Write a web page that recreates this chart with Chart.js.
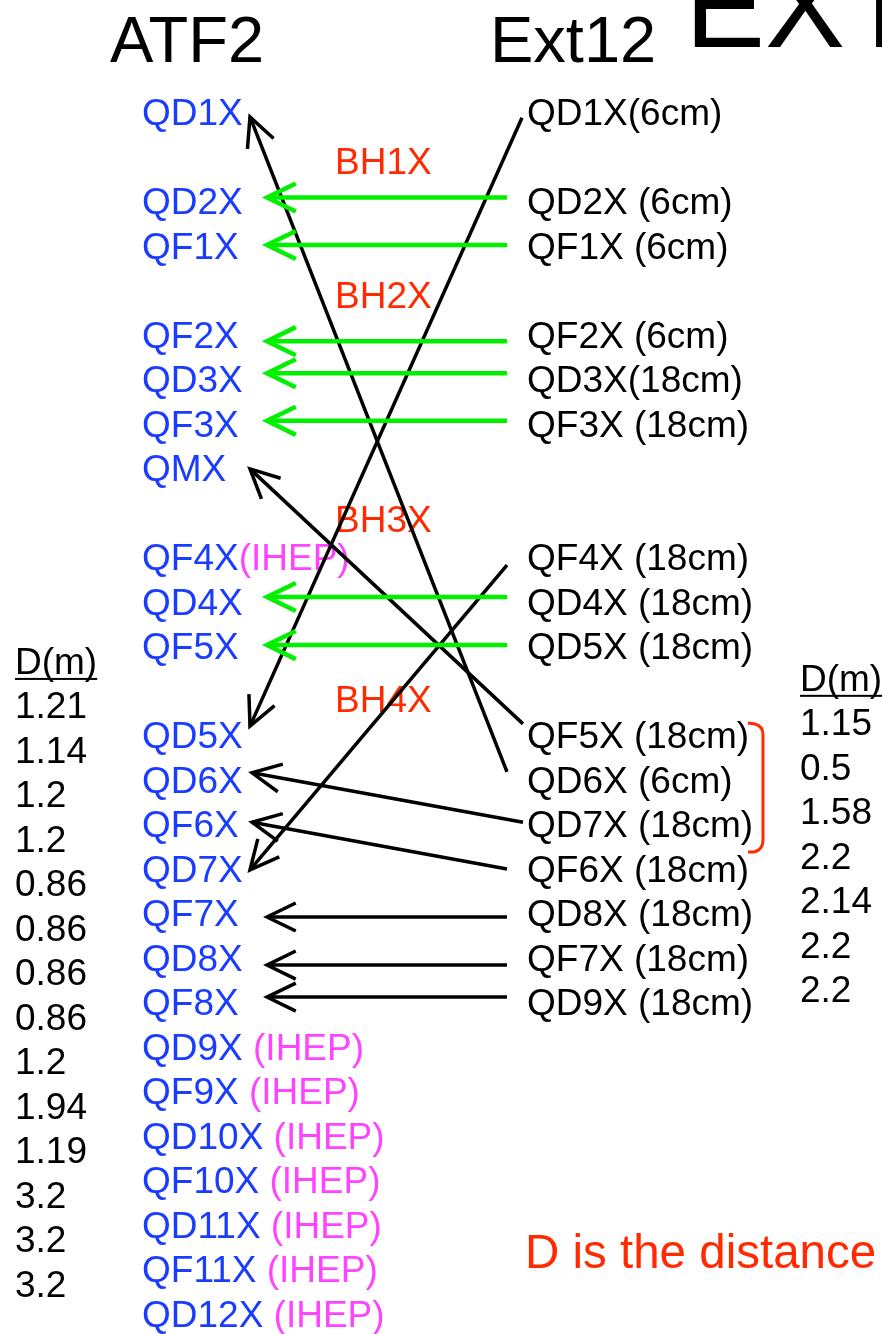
<!DOCTYPE html>
<html>
<head>
<meta charset="utf-8">
<script src="https://cdn.jsdelivr.net/npm/chart.js@4"></script>
<style>
  html, body { margin: 0; padding: 0; background: #fff; }
  canvas { display: block; }
</style>
</head>
<body>
<canvas id="chart" width="882" height="1334"></canvas>
<script>
// magnets, one entry per row ('' = empty row)
const atf2Magnets = ['QD1X', '', 'QD2X', 'QF1X', '', 'QF2X', 'QD3X', 'QF3X', 'QMX', '', 'QF4X', 'QD4X', 'QF5X', '',
  'QD5X', 'QD6X', 'QF6X', 'QD7X', 'QF7X', 'QD8X', 'QF8X', 'QD9X', 'QF9X', 'QD10X', 'QF10X', 'QD11X', 'QF11X', 'QD12X'];
const atf2Notes = ['', '', '', '', '', '', '', '', '', '', '(IHEP)', '', '', '',
  '', '', '', '', '', '', '', ' (IHEP)', ' (IHEP)', ' (IHEP)', ' (IHEP)', ' (IHEP)', ' (IHEP)', ' (IHEP)'];
const ext12Magnets = ['QD1X(6cm)', '', 'QD2X (6cm)', 'QF1X (6cm)', '', 'QF2X (6cm)', 'QD3X(18cm)', 'QF3X (18cm)', '', '',
  'QF4X (18cm)', 'QD4X (18cm)', 'QD5X (18cm)', '', 'QF5X (18cm)', 'QD6X (6cm)', 'QD7X (18cm)', 'QF6X (18cm)',
  'QD8X (18cm)', 'QF7X (18cm)', 'QD9X (18cm)'];

const bendNames = ['BH1X', 'BH2X', 'BH3X', 'BH4X'];
const bendRows = [1.1, 4.1, 9.15, 13.18];

const dLeft = ['1.21', '1.14', '1.2', '1.2', '0.86', '0.86', '0.86', '0.86', '1.2', '1.94', '1.19', '3.2', '3.2', '3.2'];
const dRight = ['1.15', '0.5', '1.58', '2.2', '2.14', '2.2', '2.2'];

// moved magnets (green) and re-used magnets (black), rows at each end
const greenRows = [1.92, 2.99, 5.15, 5.87, 6.94, 10.9, 11.98];
const blackFromRows = [0.13, 14.83, 10.18, 13.75, 15.96, 17.01, 18.09, 19.17, 19.89];
const blackToRows = [13.8, 0.11, 17.03, 8.02, 14.85, 15.96, 18.09, 19.17, 19.89];

// rows grouped by the red bracket
const bracketRows = [14, 16];

// layout
const COL = { dLeft: 15, atf2: 142, bend: 335, ext12: 527, dRight: 800, tip: 267, tail: 507 };
const blackTailX = [522, 507, 507, 523, 523, 507, 507, 507, 507];
const blackTipX = [250, 250, 250, 250, 252, 252, 267, 267, 267];
const FONT = '"Liberation Sans", Arial, Helvetica, sans-serif';
const BLUE = '#1a3cff', PINK = '#ff44ff', RED = '#ff2a00', GREEN = '#00f000';

const datasets = [];
greenRows.forEach(r => {
  datasets.push({
    data: [{ x: COL.tail, y: r }, { x: COL.tip, y: r }],
    borderColor: GREEN, borderWidth: 4.5, arrow: true,
  });
});
blackFromRows.forEach((r, i) => {
  datasets.push({
    data: [{ x: blackTailX[i], y: r }, { x: blackTipX[i], y: blackToRows[i] }],
    borderColor: '#000', borderWidth: 3.5, arrow: true,
  });
});
datasets.forEach(d => {
  d.showLine = true;
  d.pointRadius = 0;
  d.fill = false;
  d.tension = 0;
  d.borderCapStyle = 'butt';
});

const arrowHeads = {
  id: 'arrowHeads',
  afterDatasetsDraw(chart) {
    const ctx = chart.ctx;
    chart.data.datasets.forEach((ds, i) => {
      if (!ds.arrow) return;
      const pts = chart.getDatasetMeta(i).data;
      const a = pts[pts.length - 2], b = pts[pts.length - 1];
      const ang = Math.atan2(a.y - b.y, a.x - b.x);
      const len = 32, spread = 26 * Math.PI / 180;
      ctx.save();
      ctx.strokeStyle = ds.borderColor;
      ctx.lineWidth = ds.borderWidth;
      ctx.lineCap = 'butt';
      ctx.lineJoin = 'miter';
      ctx.beginPath();
      ctx.moveTo(b.x + len * Math.cos(ang + spread), b.y + len * Math.sin(ang + spread));
      ctx.lineTo(b.x, b.y);
      ctx.lineTo(b.x + len * Math.cos(ang - spread), b.y + len * Math.sin(ang - spread));
      ctx.stroke();
      ctx.restore();
    });
  },
};

const labels = {
  id: 'labels',
  beforeDatasetsDraw(chart) {
    const ctx = chart.ctx;
    const xs = chart.scales.x, ys = chart.scales.y;
    const size = 37;
    const put = (text, x, row, color, px) => {
      ctx.fillStyle = color;
      ctx.font = (px || size) + 'px ' + FONT;
      ctx.fillText(text, x, ys.getPixelForValue(row) + (px || size) * 0.358);
      return ctx.measureText(text).width;
    };
    ctx.save();
    ctx.textBaseline = 'alphabetic';
    ctx.textAlign = 'left';

    // titles
    ctx.fillStyle = '#000';
    ctx.font = '65px ' + FONT;
    ctx.fillText('ATF2', xs.getPixelForValue(110), 62);
    ctx.fillText('Ext12', xs.getPixelForValue(490), 62);
    ctx.font = '120px ' + FONT;
    ctx.fillText('EXT', xs.getPixelForValue(685), 47);

    atf2Magnets.forEach((m, r) => {
      if (!m) return;
      const w = put(m, xs.getPixelForValue(COL.atf2), r, BLUE);
      if (atf2Notes[r]) put(atf2Notes[r], xs.getPixelForValue(COL.atf2) + w, r, PINK);
    });
    ext12Magnets.forEach((m, r) => {
      if (m) put(m, xs.getPixelForValue(COL.ext12), r, '#000');
    });
    bendNames.forEach((b, i) => put(b, xs.getPixelForValue(COL.bend), bendRows[i], RED));

    // D(m) columns
    const column = (vals, x, firstRow) => {
      const w = put('D(m)', x, firstRow - 1, '#000');
      const base = ys.getPixelForValue(firstRow - 1) + size * 0.358;
      ctx.fillRect(x, base + 4, w, 2);
      vals.forEach((v, i) => put(v, x, firstRow + i, '#000'));
    };
    column(dLeft, xs.getPixelForValue(COL.dLeft), 13.33);
    column(dRight, xs.getPixelForValue(COL.dRight), 13.71);

    put('D is the distance', xs.getPixelForValue(525), 25.6, RED, 47.5);

    // bracket
    const top = ys.getPixelForValue(bracketRows[0]) - 12;
    const bot = ys.getPixelForValue(bracketRows[1]) + 28;
    const bx = xs.getPixelForValue(763), lx = xs.getPixelForValue(748);
    ctx.strokeStyle = RED;
    ctx.lineWidth = 3;
    ctx.beginPath();
    ctx.moveTo(lx, top);
    ctx.lineTo(bx - 8, top + 1);
    ctx.quadraticCurveTo(bx, top + 3, bx, top + 12);
    ctx.lineTo(bx, bot - 12);
    ctx.quadraticCurveTo(bx, bot - 2, bx - 9, bot);
    ctx.lineTo(lx, bot);
    ctx.stroke();
    ctx.restore();
  },
};

new Chart(document.getElementById('chart').getContext('2d'), {
  type: 'scatter',
  data: { datasets: datasets },
  options: {
    responsive: false,
    animation: false,
    devicePixelRatio: 1,
    layout: { padding: 0 },
    scales: {
      x: { type: 'linear', min: 0, max: 882, display: false },
      y: { type: 'linear', min: -112 / 44.5, max: (1334 - 112) / 44.5, reverse: true, display: false },
    },
    plugins: {
      legend: { display: false },
      tooltip: { enabled: false },
    },
  },
  plugins: [labels, arrowHeads],
});
</script>
</body>
</html>
